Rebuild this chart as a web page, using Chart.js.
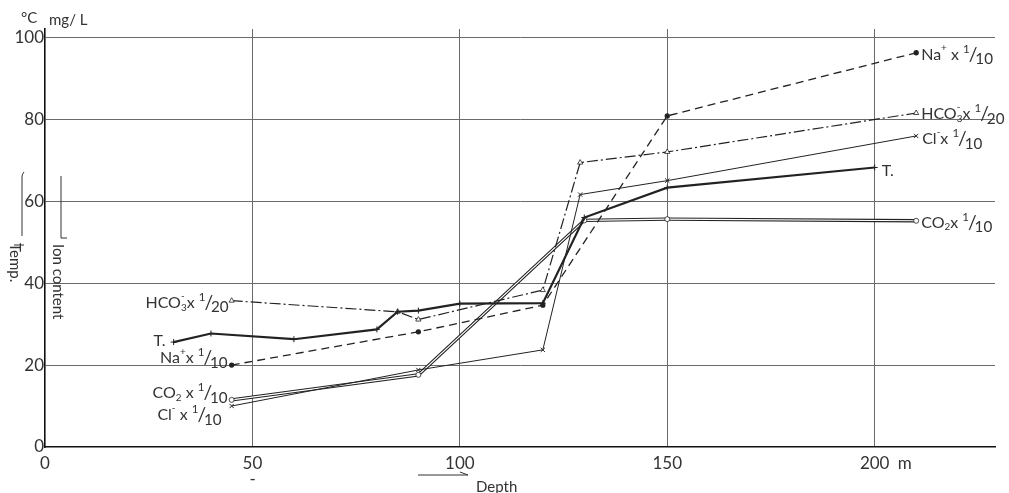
<!DOCTYPE html>
<html>
<head>
<meta charset="utf-8">
<script src="https://cdn.jsdelivr.net/npm/chart.js@4.4.1/dist/chart.umd.min.js"></script>
<style>
  html, body { margin: 0; padding: 0; background: #fff; }
  #wrap { width: 1009px; height: 493px; }
</style>
</head>
<body>
<div id="wrap"><canvas id="chart" width="1009" height="493"></canvas></div>
<script>
  "use strict";

  // depth (m) on x, values on y (deg C or mg/L scaled)
  var depthTemp = [31, 40, 60, 80, 85, 90, 100, 120, 130, 150, 200];
  var temp = [25.6, 27.7, 26.3, 28.7, 33, 33.3, 35, 35.1, 56, 63.3, 68.2];

  var depthNa = [45, 90, 120, 150, 210];
  var na = [20, 28.1, 34.6, 80.8, 96.2];

  var depthHco3 = [45, 85, 90, 120, 129, 150, 210];
  var hco3 = [35.7, 33, 31.1, 38.3, 69.4, 72, 81.5];

  var depthCl = [45, 90, 120, 129, 150, 210];
  var cl = [10, 18.8, 23.7, 61.6, 65, 75.9];

  var depthCo2 = [45, 90, 130, 150, 210];
  var co2 = [11.5, 17.6, 55.3, 55.6, 55.2];

  var xTicks = [0, 50, 100, 150, 200];
  var yTicks = [0, 20, 40, 60, 80, 100];

  var INK = "#222";
  var FONT = "Lato, 'Noto Sans', sans-serif";

  function pts(xs, ys) {
    return xs.map(function (x, i) {
      return { x: x, y: ys[i] };
    });
  }

  // small rich text helper: parts are [text, kind]
  // kinds: n normal, sup, sub, ss (sub|sup stacked), f (fraction a/b)
  function buildSegs(parts, size) {
    var segs = [];
    parts.forEach(function (p) {
      var t = p[0], k = p[1] || "n";
      if (k === "n") segs.push({ t: t, s: size, dy: 0 });
      else if (k === "sup") segs.push({ t: t, s: size * 0.62, dy: -size * 0.42 });
      else if (k === "sub") segs.push({ t: t, s: size * 0.62, dy: size * 0.28 });
      else if (k === "ss") {
        var a = t.split("|");
        segs.push({ t: a[0], s: size * 0.62, dy: size * 0.3, stack: a[1] });
      } else if (k === "f") {
        var nd = t.split("/");
        segs.push({ t: nd[0], s: size * 0.72, dy: -size * 0.36, kern: -1 });
        segs.push({ t: "/", s: size * 1.2, dy: 0, kern: -2 });
        segs.push({ t: nd[1], s: size * 0.95, dy: size * 0.3 });
      }
    });
    return segs;
  }

  function drawRich(ctx, x, y, parts, size, align) {
    var segs = buildSegs(parts, size);
    var total = 0;
    segs.forEach(function (s) {
      ctx.font = s.s + "px " + FONT;
      s.w = ctx.measureText(s.t).width;
      if (s.stack) s.w = Math.max(s.w, ctx.measureText(s.stack).width);
      total += s.w + (s.kern || 0);
    });
    var cx = align === "right" ? x - total : x;
    ctx.textAlign = "left";
    ctx.textBaseline = "middle";
    segs.forEach(function (s) {
      ctx.font = s.s + "px " + FONT;
      ctx.fillText(s.t, cx, y + s.dy);
      if (s.stack) ctx.fillText(s.stack, cx, y - size * 0.42);
      cx += s.w + (s.kern || 0);
    });
  }

  var HCO3_TXT = [["HCO"], ["3|-", "ss"], ["x "], ["1/20", "f"]];
  var NA_TXT = [["Na"], ["+", "sup"], ["x "], ["1/10", "f"]];
  var NA_TXT_R = [["Na"], ["+", "sup"], [" x "], ["1/10", "f"]];
  var CO2_TXT = [["CO"], ["2", "sub"], [" x "], ["1/10", "f"]];
  var CO2_TXT_R = [["CO"], ["2", "sub"], ["x "], ["1/10", "f"]];
  var CL_TXT = [["Cl"], ["-", "sup"], [" x "], ["1/10", "f"]];
  var CL_TXT_R = [["Cl"], ["-", "sup"], ["x "], ["1/10", "f"]];

  var textPlugin = {
    id: "figureText",
    afterDatasetsDraw: function (chart) {
      var ctx = chart.ctx;
      var xs = chart.scales.x, ys = chart.scales.y;
      var area = chart.chartArea;
      function P(xv, yv) {
        return { x: xs.getPixelForValue(xv), y: ys.getPixelForValue(yv) };
      }
      ctx.save();
      ctx.fillStyle = "#333";
      ctx.strokeStyle = "#333";

      // tick labels
      ctx.font = "17px " + FONT;
      ctx.textBaseline = "middle";
      ctx.textAlign = "right";
      yTicks.forEach(function (v) {
        ctx.fillText(String(v), area.left - 1, ys.getPixelForValue(v));
      });
      ctx.textAlign = "center";
      xTicks.forEach(function (v) {
        ctx.fillText(String(v), xs.getPixelForValue(v), area.bottom + 17);
      });
      ctx.textAlign = "left";
      ctx.fillText("m", xs.getPixelForValue(200) + 23, area.bottom + 17);
      ctx.fillText("-", xs.getPixelForValue(50) - 3, area.bottom + 33);

      // unit header
      ctx.font = "15px " + FONT;
      ctx.fillText("°C", 21, 18);
      ctx.fillText("mg/ L", 49, 20);

      // depth arrow
      ctx.lineWidth = 1;
      ctx.beginPath();
      ctx.moveTo(418, 475);
      ctx.lineTo(468, 475);
      ctx.moveTo(468, 475);
      ctx.lineTo(460, 472);
      ctx.stroke();
      ctx.font = "15px " + FONT;
      ctx.fillText("Depth", 476, 487);

      // vertical titles
      ctx.beginPath();
      ctx.moveTo(22, 236);
      ctx.lineTo(22, 177);
      ctx.quadraticCurveTo(22, 174, 24, 172);
      ctx.moveTo(14, 245);
      ctx.lineTo(24, 245);
      ctx.moveTo(61, 238);
      ctx.lineTo(61, 176);
      ctx.moveTo(61, 238);
      ctx.lineTo(67, 238);
      ctx.stroke();
      ctx.font = "15px " + FONT;
      ctx.save();
      ctx.translate(15, 243);
      ctx.rotate(Math.PI / 2);
      ctx.textAlign = "left";
      ctx.fillText("Temp.", 0, 0);
      ctx.restore();
      ctx.save();
      ctx.translate(58, 244);
      ctx.rotate(Math.PI / 2);
      ctx.textAlign = "left";
      ctx.fillText("Ion content", 0, 0);
      ctx.restore();

      // series labels, left ends
      var p;
      p = P(depthHco3[0], hco3[0]);
      drawRich(ctx, p.x - 3, p.y + 2, HCO3_TXT, 16, "right");
      p = P(depthTemp[0], temp[0]);
      drawRich(ctx, p.x - 8, p.y - 1, [["T."]], 16, "right");
      p = P(depthNa[0], na[0]);
      drawRich(ctx, p.x - 4, p.y - 7, NA_TXT, 16, "right");
      p = P(depthCo2[0], co2[0]);
      drawRich(ctx, p.x - 4, p.y - 7, CO2_TXT, 16, "right");
      p = P(depthCl[0], cl[0]);
      drawRich(ctx, p.x - 10, p.y + 9, CL_TXT, 16, "right");

      // series labels, right ends
      p = P(depthNa[depthNa.length - 1], na[na.length - 1]);
      drawRich(ctx, p.x + 5, p.y + 2, NA_TXT_R, 16, "left");
      p = P(depthHco3[depthHco3.length - 1], hco3[hco3.length - 1]);
      drawRich(ctx, p.x + 5, p.y + 1, HCO3_TXT, 16, "left");
      p = P(depthCl[depthCl.length - 1], cl[cl.length - 1]);
      drawRich(ctx, p.x + 6, p.y + 3, CL_TXT_R, 16, "left");
      p = P(depthTemp[depthTemp.length - 1], temp[temp.length - 1]);
      drawRich(ctx, p.x + 7, p.y + 3, [["T."]], 16, "left");
      p = P(depthCo2[depthCo2.length - 1], co2[co2.length - 1]);
      drawRich(ctx, p.x + 5, p.y + 2, CO2_TXT_R, 16, "left");

      ctx.restore();
    },
  };

  var ctx = document.getElementById("chart").getContext("2d");
  new Chart(ctx, {
    type: "line",
    data: {
      datasets: [
        {
          label: "T",
          data: pts(depthTemp, temp),
          borderColor: INK,
          borderWidth: 2.2,
          pointStyle: "cross",
          pointRadius: 3,
          pointBorderColor: INK,
          pointBorderWidth: 1,
          order: 1,
        },
        {
          label: "Na+ x 1/10",
          data: pts(depthNa, na),
          borderColor: INK,
          borderWidth: 1.3,
          borderDash: [8, 5],
          pointStyle: "circle",
          pointRadius: 2,
          pointBackgroundColor: INK,
          pointBorderColor: INK,
          order: 2,
        },
        {
          label: "HCO3- x 1/20",
          data: pts(depthHco3, hco3),
          borderColor: INK,
          borderWidth: 1.2,
          borderDash: [11, 3, 2, 3],
          pointStyle: "triangle",
          pointRadius: 3,
          pointBackgroundColor: "#fff",
          pointBorderColor: INK,
          pointBorderWidth: 0.8,
          order: 3,
        },
        {
          label: "Cl- x 1/10",
          data: pts(depthCl, cl),
          borderColor: INK,
          borderWidth: 1,
          pointStyle: "crossRot",
          pointRadius: 3,
          pointBorderColor: INK,
          pointBorderWidth: 1,
          order: 4,
        },
        {
          label: "CO2 x 1/10 inner",
          data: pts(depthCo2, co2),
          borderColor: "#fff",
          borderWidth: 1.1,
          pointStyle: "circle",
          pointRadius: 2.5,
          pointBackgroundColor: "#fff",
          pointBorderColor: INK,
          pointBorderWidth: 0.8,
          order: 5,
        },
        {
          label: "CO2 x 1/10",
          data: pts(depthCo2, co2),
          borderColor: INK,
          borderWidth: 3.4,
          pointRadius: 0,
          order: 6,
        },
      ],
    },
    options: {
      responsive: false,
      animation: false,
      devicePixelRatio: 1,
      layout: { padding: { left: 45, right: 14, top: 29, bottom: 46 } },
      elements: { line: { tension: 0 } },
      plugins: {
        legend: { display: false },
        tooltip: { enabled: false },
      },
      scales: {
        x: {
          type: "linear",
          min: 0,
          max: 229,
          afterBuildTicks: function (scale) {
            scale.ticks = xTicks.map(function (v) {
              return { value: v };
            });
          },
          ticks: { display: false },
          grid: {
            drawTicks: false,
            lineWidth: 1,
            color: function (c) {
              return c.tick && c.tick.value === 0 ? "rgba(0,0,0,0)" : "#6a6a6a";
            },
          },
          border: { display: true, color: "#111", width: 1.6 },
        },
        y: {
          type: "linear",
          min: 0,
          max: 102,
          afterBuildTicks: function (scale) {
            scale.ticks = yTicks.map(function (v) {
              return { value: v };
            });
          },
          ticks: { display: false },
          grid: {
            drawTicks: false,
            lineWidth: 1,
            color: function (c) {
              return c.tick && c.tick.value === 0 ? "rgba(0,0,0,0)" : "#6a6a6a";
            },
          },
          border: { display: true, color: "#111", width: 1.6 },
        },
      },
    },
    plugins: [textPlugin],
  });
</script>
</body>
</html>
